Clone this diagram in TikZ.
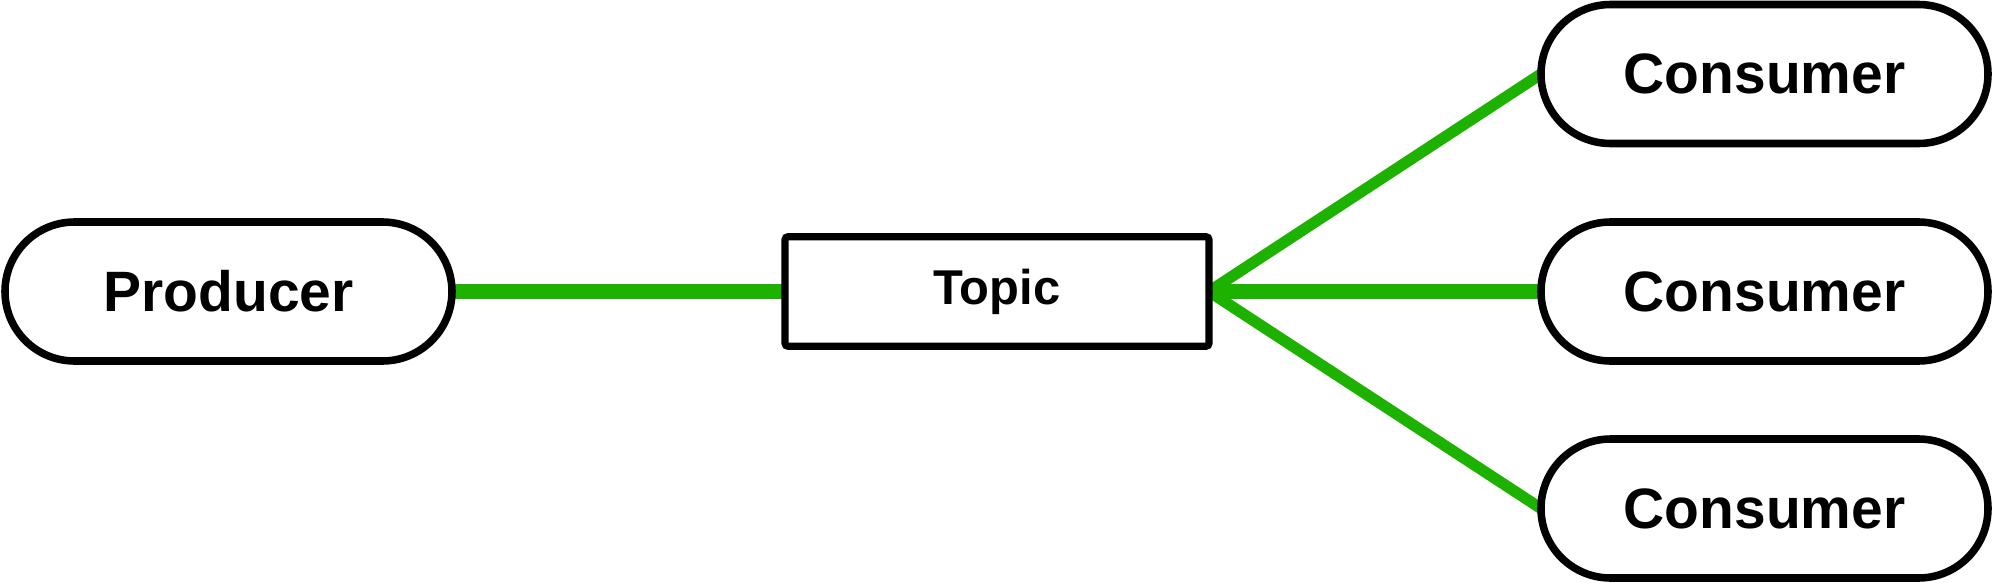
\documentclass[tikz,border=0pt]{standalone}
\usepackage{fontspec}
\setmainfont{Liberation Sans}
\usepackage{xcolor}
\usepackage{tikz}
\usetikzlibrary{shapes,positioning,backgrounds}

\definecolor{linkgreen}{RGB}{30,178,0}

\begin{document}
\begin{tikzpicture}[
    node distance=0.78cm and 3.33cm,
    client/.style={rectangle, rounded corners=0.695cm, fill=white, draw=black, line width=2.15pt, outer sep=0pt, minimum width=4.47cm, minimum height=1.39cm, text centered, font=\fontsize{16.2pt}{19pt}\selectfont\bfseries},
    topicbox/.style={rectangle, rounded corners=0.8pt, fill=white, draw=black, line width=2pt, outer sep=0pt, minimum width=4.24cm, minimum height=1.095cm, text centered, font=\fontsize{13.9pt}{16pt}\selectfont\bfseries},
    link/.style={draw=linkgreen, line width=4.3pt},
    fanout/.style={draw=linkgreen, line width=3.2pt}
]

    % page frame
    \useasboundingbox (-2.285,-2.915) rectangle (17.655,2.915);

    % Producer and topic
    \node[client] (producer) {Producer};
    \node[topicbox, right=of producer] (topic) {Topic};

    % Consumers (right side)
    \node[client, right=3.32cm of topic] (consumer2) {Consumer};
    \node[client, above=0.785cm of consumer2] (consumer1) {Consumer};
    \node[client, below=of consumer2] (consumer3) {Consumer};

    % Connections (behind the nodes)
    \begin{scope}[on background layer]
        \draw[link] (producer.east) -- (topic.west);
        \draw[link] (topic.east) -- (consumer2.west);
        \draw[fanout] (topic.east) -- (consumer1.west);
        \draw[fanout] (topic.east) -- (consumer3.west);
    \end{scope}

\end{tikzpicture}
\end{document}
